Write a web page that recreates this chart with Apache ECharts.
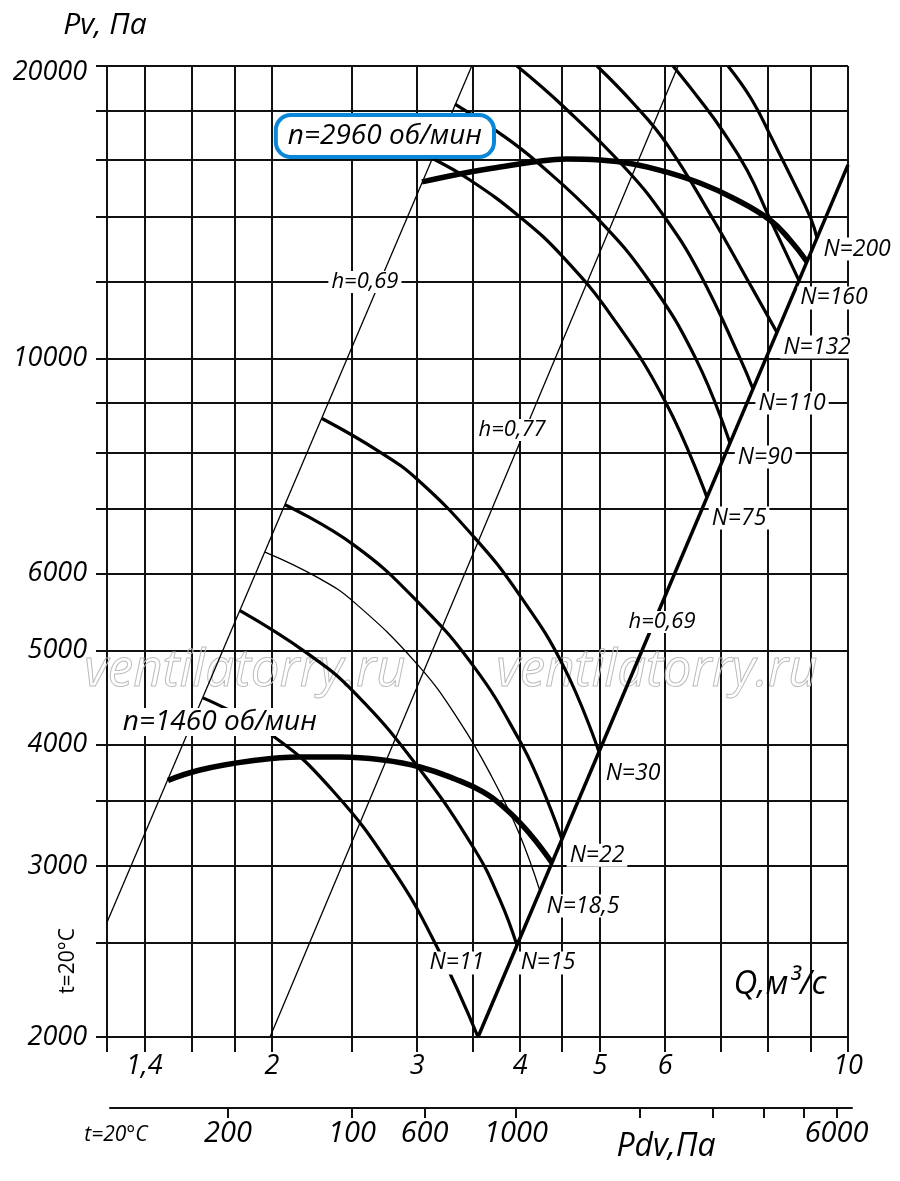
<!DOCTYPE html>
<html><head><meta charset="utf-8">
<script src="https://cdn.jsdelivr.net/npm/echarts@6/dist/echarts.min.js"></script>
<style>html,body{margin:0;padding:0;background:#fff}#c{width:900px;height:1181px}</style>
</head><body><div id="c"></div>
<script>
// ---------------- data (Q in m3/s, Pv in Pa) ----------------
const Q_MIN = 1.2613, Q_MAX = 10;
const P_MIN = 2000, P_MAX = 20000;
const xGridValues = [1.2613, 1.4, 1.6, 1.8, 2, 2.5, 3, 3.5, 4, 4.5, 5, 6, 7, 8, 9, 10];
const xLabelValues = [1.4, 2, 3, 4, 5, 6, 10];
const xLabelTexts = ['1,4', '2', '3', '4', '5', '6', '10'];
const yGridValues = [2000, 2500, 3000, 3500, 4000, 5000, 6000, 7000, 8000, 9000, 10000, 12000, 14000, 16000, 18000, 20000];
const yLabelValues = [2000, 3000, 4000, 5000, 6000, 10000, 20000];
// dynamic pressure scale
const PDV_MIN = 103.4, PDV_MAX = 6540;
const pdvTickValues = [200, 400, 600, 1000, 2000, 3000, 4000, 5000, 6000];
const pdvLabelValues = [200, 400, 600, 1000, 6000];
const pdvLabelTexts = ['200', '100', '600', '1000', '6000'];

// efficiency / system lines
const eff069Left = [[1.2613, 2625], [3.495, 20000]];
const eff077 = [[1.989, 2000], [6.22, 20000]];
const eff069Right = [[3.557, 2000], [10, 15820]];

// n = 1460 rpm
const n1460 = [[1.4955,3675],[1.6354,3767],[1.8809,3848],[2.1628,3885],[2.4184,3885],[2.7281,3857],[3.0238,3794],[3.3347,3688],[3.6063,3576],[3.856,3426],[4.1122,3237],[4.373,3023]];
const curveN11 = [[1.6491,4470],[2.0056,4083],[2.3718,3584],[2.8046,2972],[3.1715,2476],[3.557,2000]];
const curveN15 = [[1.829,5496],[2.2056,4970],[2.5149,4531],[3.0075,3794],[3.5264,3116],[3.7814,2768],[3.9654,2486]];
const curveN185 = [[1.9612,6315],[2.2681,5951],[2.5149,5609],[3.0075,4831],[3.3816,4221],[3.7081,3688],[3.9876,3244],[4.2286,2827]];
const curveN22 = [[2.074,7067],[2.5149,6421],[3.0075,5609],[3.5264,4796],[3.9876,4052],[4.2286,3653],[4.4967,3197]];
const curveN30 = [[2.300,8670],[2.7046,8007],[3.0075,7493],[3.5264,6528],[3.9876,5716],[4.5219,4808],[4.9872,3932]];

// n = 2960 rpm
const n2960 = [[3.0413,15197],[3.4775,15556],[3.7814,15740],[4.1467,15928],[4.5602,16042],[5.0013,16004],[5.4845,15854],[6.014,15556],[6.6129,15154],[7.2519,14626],[8.042,13880],[8.5043,13238],[8.918,12574]];
const curveN75 = [[3.1274,16070],[3.4775,15264],[3.9988,13981],[4.5093,12716],[5.1861,11001],[6.014,8994],[6.7436,7190]];
const curveN90 = [[3.3347,18271],[3.8027,16988],[4.1933,15928],[4.9734,13914],[5.7513,11984],[6.5578,9934],[7.1913,8176]];
const curveN110 = [[3.9654,20000],[4.5219,18148],[5.3933,15630],[6.014,13914],[6.6129,12212],[7.395,10005],[7.6686,9297]];
const curveN132 = [[4.9594,20000],[5.4845,18320],[6.014,16669],[6.8575,13914],[7.5412,12068],[8.2009,10633]];
const curveN160 = [[6.1327,20000],[6.6129,18451],[7.0322,17184],[7.5412,15630],[8.042,13914],[8.7208,12024]];
const curveN200 = [[7.1512,20000],[7.6472,18451],[8.0871,16827],[8.6,15154],[9.0184,13914],[9.1708,13297]];

// annotation texts anchored in data coordinates
const annotations = [
  ['N=200', 10.257, 12958], ['N=160', 9.617, 11540], ['N=132', 9.172, 10270],
  ['N=110', 8.554, 8994], ['N=90', 7.933, 7914], ['N=75', 7.375, 6846],
  ['N=30', 5.484, 3738], ['N=22', 4.959, 3078], ['N=18,5', 4.769, 2728],
  ['N=15', 4.325, 2384], ['N=11', 3.353, 2384]
];
const effLabels = [['h=0,69', 2.593, 11984], ['h=0,77', 3.912, 8434], ['h=0,69', 5.947, 5352]];
const speedLabels = [['n=2960 об/мин', 2.742, 16938, true], ['n=1460 об/мин', 1.729, 4222, false]];

// ---------------- chart ----------------
const FONT = '"Open Sans", "Noto Sans", "DejaVu Sans", sans-serif';
const L = Math.log10;
const toXY = arr => arr.map(d => [L(d[0]), L(d[1])]);
function nearest(vals, v) {
  let bi = 0, bd = Infinity;
  vals.forEach((x, i) => { const d = Math.abs(L(x) - v); if (d < bd) { bd = d; bi = i; } });
  return bi;
}
function ser(data, width, smooth) {
  return {
    type: 'line', data: toXY(data), xAxisIndex: 0, yAxisIndex: 0,
    showSymbol: false, symbol: 'none', smooth: smooth ? 0.45 : false,
    lineStyle: { color: '#000', width: width, cap: 'butt', join: 'round' },
    silent: true, animation: false, z: 3, clip: true
  };
}
const gridLine = { color: '#111', width: 2 };
const yLabelStyle = { color: '#000', fontSize: 27, fontStyle: 'italic', fontFamily: FONT };

const chart = echarts.init(document.getElementById('c'), null, { renderer: 'canvas', width: 900, height: 1181 });
const option = {
  animation: false,
  backgroundColor: '#fff',
  grid: [
    { left: 107, top: 66, width: 741, height: 971, containLabel: false, outerBoundsMode: 'none', show: false },
    { left: 110, top: 1100, width: 742, height: 8, containLabel: false, outerBoundsMode: 'none', show: false }
  ],
  xAxis: [
    {
      gridIndex: 0, type: 'value', min: L(Q_MIN), max: L(Q_MAX), position: 'bottom',
      axisLine: { show: true, onZero: false, lineStyle: gridLine },
      axisTick: { show: true, inside: false, length: 15, customValues: xGridValues.map(L), lineStyle: gridLine },
      axisLabel: {
        show: true, customValues: xLabelValues.map(L),
        formatter: v => xLabelTexts[nearest(xLabelValues, v)],
        color: '#000', fontSize: 27, fontStyle: 'italic', fontFamily: FONT, margin: 16
      },
      splitLine: { show: true, lineStyle: gridLine }
    },
    {
      gridIndex: 1, type: 'value', min: L(PDV_MIN), max: L(PDV_MAX), position: 'bottom',
      axisLine: { show: true, onZero: false, lineStyle: gridLine },
      axisTick: { show: true, inside: false, length: 10, customValues: pdvTickValues.map(L), lineStyle: gridLine },
      axisLabel: {
        show: true, customValues: pdvLabelValues.map(L),
        formatter: v => pdvLabelTexts[nearest(pdvLabelValues, v)],
        color: '#000', fontSize: 29, fontStyle: 'italic', fontFamily: '"Liberation Sans Narrow", ' + FONT, margin: 11
      },
      splitLine: { show: false }
    }
  ],
  yAxis: [
    {
      gridIndex: 0, type: 'value', min: L(P_MIN), max: L(P_MAX), position: 'left',
      axisLine: { show: true, onZero: false, lineStyle: gridLine },
      axisTick: { show: true, inside: false, length: 11, customValues: yGridValues.map(L), lineStyle: gridLine },
      axisLabel: Object.assign({
        show: true, customValues: yLabelValues.map(L),
        formatter: v => {
          const s = String(Math.round(Math.pow(10, v)));
          return v >= L(P_MAX) - 1e-9 ? '{top|' + s + '}' : s;
        },
        margin: 20,
        rich: { top: Object.assign({ padding: [12, 0, 0, 0] }, yLabelStyle) }
      }, yLabelStyle),
      splitLine: { show: true, lineStyle: gridLine }
    },
    { gridIndex: 1, type: 'value', min: 0, max: 1, show: false }
  ],
  series: [
    ser(eff069Left, 1.3, false),
    ser(eff077, 1.3, false),
    ser(curveN11, 3.2, true),
    ser(curveN15, 3.2, true),
    ser(curveN185, 1.3, true),
    ser(curveN22, 3.2, true),
    ser(curveN30, 3.2, true),
    ser(n1460, 5.5, true),
    ser(curveN75, 3.2, true),
    ser(curveN90, 3.2, true),
    ser(curveN110, 3.2, true),
    ser(curveN132, 3.2, true),
    ser(curveN160, 3.2, true),
    ser(curveN200, 3.2, true),
    ser(n2960, 5.5, true),
    ser(eff069Right, 3.5, false),
    { type: 'line', xAxisIndex: 1, yAxisIndex: 1, data: [], silent: true }
  ]
};
chart.setOption(option);

function txt(text, x, y, font, extra) {
  const style = Object.assign({
    text: text, x: 0, y: 0, font: font, fill: '#000',
    align: 'center', verticalAlign: 'middle', textAlign: 'center', textVerticalAlign: 'middle'
  }, extra || {});
  return { type: 'text', x: x, y: y, z: 100, silent: true, style: style };
}
const els = [];
// watermark
['ventilatorry.ru', 'ventilatorry.ru'].forEach((w, i) => {
  els.push(Object.assign(txt(w, i === 0 ? 245 : 657, 671, 'italic 51px ' + FONT,
    { fill: 'rgba(255,255,255,0)', stroke: '#bcbcbc', lineWidth: 1 }), { z: 1 }));
});
annotations.forEach(a => {
  const p = chart.convertToPixel({ gridIndex: 0 }, [L(a[1]), L(a[2])]);
  els.push(txt(a[0], p[0], p[1], 'italic 23px ' + FONT, { backgroundColor: '#fff', padding: [0, 3] }));
});
effLabels.forEach(a => {
  const p = chart.convertToPixel({ gridIndex: 0 }, [L(a[1]), L(a[2])]);
  els.push(txt(a[0], p[0], p[1], 'italic 22px ' + FONT, { backgroundColor: '#fff', padding: [0, 3] }));
});
speedLabels.forEach(a => {
  const p = chart.convertToPixel({ gridIndex: 0 }, [L(a[1]), L(a[2])]);
  const extra = a[3]
    ? { backgroundColor: '#fff', borderColor: '#0a87d9', borderWidth: 4, borderRadius: 13, padding: [5, 10] }
    : { backgroundColor: '#fff', padding: [0, 2] };
  els.push(txt(a[0], p[0], p[1], 'italic 28px ' + FONT, extra));
});
// axis names
els.push(txt('Pv, Па', 105, 25, 'italic 30px ' + FONT));
els.push(txt('Q,м³/с', 780, 985, 'italic 33px ' + FONT));
els.push(txt('Pdv,Па', 666, 1147, 'italic 32px ' + FONT));
els.push(Object.assign(txt('t=20°C', 0, 0, '21px ' + FONT), { x: 68, y: 961, rotation: Math.PI / 2 }));
els.push(txt('t=20°C', 116, 1135, 'italic 21px "Liberation Sans Narrow", ' + FONT));
chart.setOption({ graphic: { elements: els } });
</script>
</body></html>
